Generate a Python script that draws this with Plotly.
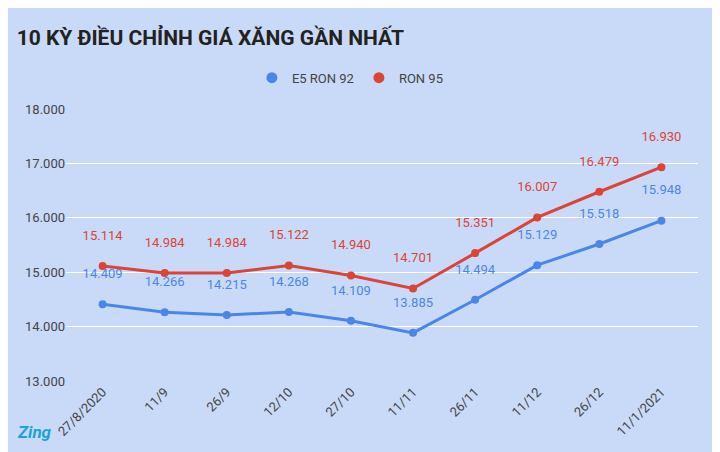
import plotly.graph_objects as go

dates = ["27/8/2020", "11/9", "26/9", "12/10", "27/10", "11/11", "26/11", "11/12", "26/12", "11/1/2021"]
e5_ron92 = [14409, 14266, 14215, 14268, 14109, 13885, 14494, 15129, 15518, 15948]
ron95 = [15114, 14984, 14984, 15122, 14940, 14701, 15351, 16007, 16479, 16930]

BG = "#c9daf8"
BLUE = "#4a86e8"
RED = "#db4437"

fig = go.Figure()
for name, vals, color in [("E5 RON 92", e5_ron92, BLUE), ("RON 95", ron95, RED)]:
    fig.add_trace(go.Scatter(
        x=dates, y=vals, name=name, mode="lines+markers+text", showlegend=False,
        line=dict(color=color, width=3), marker=dict(size=8, color=color),
        text=[f"{v:,}".replace(",", ".") + "<br><span style='font-size:5px'> </span>" for v in vals],
        textposition="top center", textfont=dict(color=color, size=13),
        cliponaxis=False,
    ))
    # legend-only dot
    fig.add_trace(go.Scatter(
        x=[None], y=[None], name=name, mode="markers",
        marker=dict(size=11, color=color),
    ))

fig.update_layout(
    width=720, height=452,
    paper_bgcolor=BG, plot_bgcolor=BG,
    separators=",.",
    font=dict(family="Roboto, sans-serif", color="#444444"),
    title=dict(text="<b>10 KỲ ĐIỀU CHỈNH GIÁ XĂNG GẦN NHẤT</b>", x=0.012, y=0.95,
               xanchor="left", font=dict(size=21, color="#222222")),
    legend=dict(orientation="h", x=0.45, xanchor="center", y=1.06, yanchor="bottom",
                font=dict(size=13, color="#444444"), bgcolor="rgba(0,0,0,0)"),
    margin=dict(l=58, r=30, t=101, b=79),
    xaxis=dict(tickangle=-45, showgrid=False, tickfont=dict(size=13, color="#444444"),
               showline=False, zeroline=False),
    yaxis=dict(range=[13000, 18000], tickvals=[13000, 14000, 15000, 16000, 17000, 18000],
               tickformat=",d", gridcolor="#ffffff", gridwidth=1, zeroline=False,
               tickfont=dict(size=13, color="#444444"), ticksuffix="  "),
)
fig.add_annotation(text="<b><i>Zing</i></b>", xref="paper", yref="paper", x=-0.08, y=-0.23,
                   xanchor="left", yanchor="bottom", showarrow=False,
                   font=dict(size=17, color="#1aa3d9"))

fig.write_html("out.html")
